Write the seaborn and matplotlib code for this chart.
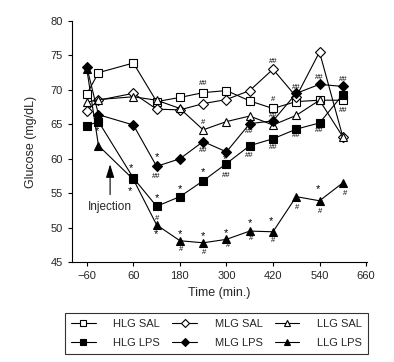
import pandas as pd
import matplotlib
matplotlib.use("Agg")
import matplotlib.pyplot as plt
import seaborn as sns

# sampling times (min)
times = [-60, -30, 60, 120, 180, 240, 300, 360, 420, 480, 540, 600]

# glucose (mg/dL)
hlg_sal = [69.4, 72.5, 73.9, 68.3, 68.9, 69.6, 69.9, 68.4, 67.3, 68.3, 68.5, 68.5]
mlg_sal = [67.0, 68.5, 69.5, 67.2, 67.1, 68.0, 68.6, 69.9, 73.0, 69.0, 75.5, 63.2]
llg_sal = [68.2, 68.6, 69.0, 68.5, 67.3, 64.2, 65.4, 66.2, 64.9, 66.3, 68.5, 63.2]
hlg_lps = [64.8, 65.4, 57.2, 53.1, 54.5, 56.8, 59.3, 61.9, 62.9, 64.3, 65.2, 69.3]
mlg_lps = [73.3, 66.4, 64.9, 58.9, 60.0, 62.5, 61.0, 65.1, 65.5, 69.5, 70.8, 70.5]
llg_lps = [73.0, 61.9, 57.0, 50.4, 48.1, 47.8, 48.3, 49.5, 49.4, 54.5, 53.9, 56.5]

# significance marks (time, glucose, symbol)
marks = [
    (-35, 64.0, "*"), (55, 58.6, "*"), (50, 55.3, "*"),
    (120, 60.2, "*"), (120, 57.4, "##"), (120, 54.3, "*"),
    (120, 51.3, "#"), (118, 49.0, "*"),
    (180, 55.6, "*"), (180, 49.0, "*"), (182, 46.9, "#"),
    (240, 58.0, "*"), (240, 48.8, "*"), (242, 46.4, "#"),
    (240, 61.2, "##"), (240, 70.9, "##"), (240, 65.3, "#"),
    (295, 60.0, "*"), (300, 57.6, "##"), (298, 49.2, "*"), (303, 47.4, "#"),
    (360, 50.6, "*"), (363, 48.4, "#"), (360, 64.0, "##"), (360, 60.5, "##"),
    (414, 50.9, "*"), (420, 48.1, "#"), (420, 61.7, "##"), (420, 66.3, "##"),
    (420, 68.6, "#"), (420, 74.1, "##"),
    (483, 52.9, "#"), (480, 70.3, "##"), (480, 63.4, "##"),
    (535, 55.6, "*"), (542, 52.4, "#"), (540, 71.8, "##"), (540, 64.1, "##"),
    (605, 54.9, "#"), (600, 71.5, "##"), (600, 67.0, "##"),
]

groups = [
    ("LLG LPS", llg_lps, "^", "black"),
    ("HLG SAL", hlg_sal, "s", "white"),
    ("MLG SAL", mlg_sal, "D", "white"),
    ("LLG SAL", llg_sal, "^", "white"),
    ("HLG LPS", hlg_lps, "s", "black"),
    ("MLG LPS", mlg_lps, "D", "black"),
]

sns.set_style("ticks")
plt.rcParams["font.family"] = ["Liberation Sans", "DejaVu Sans"]

fig = plt.figure(figsize=(3.94, 3.62), dpi=100)
ax = fig.add_axes([0.183, 0.276, 0.748, 0.666])

handles = {}
for name, vals, mk, face in groups:
    df = pd.DataFrame({"time": times, "glucose": vals})
    sns.lineplot(data=df, x="time", y="glucose", ax=ax, color="black",
                 linewidth=0.8, marker=mk, markersize=5.5 if mk != "D" else 4.6,
                 markerfacecolor=face, markeredgecolor="black",
                 markeredgewidth=0.8, label=name)
    handles[name] = ax.lines[-1]

for t, g, s in marks:
    ax.text(t, g, s, ha="center", va="center",
            fontsize=8 if s == "*" else 5.5, color="black")

# injection arrow at time 0
ax.annotate("", xy=(0, 59.6), xytext=(0, 54.4),
            arrowprops=dict(arrowstyle="-|>,head_width=0.25,head_length=0.8",
                            color="black", lw=0.8))
ax.text(0, 53.0, "Injection", ha="center", va="center", fontsize=8.5)

ax.set_xlim(-98, 662)
ax.set_ylim(45, 80)
ax.set_xticks(range(-60, 661, 120))
ax.set_yticks(range(45, 81, 5))
ax.tick_params(labelsize=8, length=3, width=0.8, color="black")
for sp in ["left", "bottom"]:
    ax.spines[sp].set_linewidth(0.8)
    ax.spines[sp].set_color("black")
sns.despine(ax=ax)
ax.set_xlabel("Time (min.)", fontsize=9)
ax.set_ylabel("Glucose (mg/dL)", fontsize=9, labelpad=10)

order = ["HLG SAL", "HLG LPS", "MLG SAL", "MLG LPS", "LLG SAL", "LLG LPS"]
leg = ax.legend([handles[n] for n in order], order, ncol=3, loc="upper center",
                bbox_to_anchor=(0.49, -0.21), fontsize=8, frameon=True,
                fancybox=False, edgecolor="black", handlelength=2.2,
                columnspacing=1.1, handletextpad=1.6, borderpad=0.55,
                labelspacing=0.85, borderaxespad=0, markerscale=0.85)
leg.get_frame().set_linewidth(0.8)

fig.savefig("out.png", dpi=100)
